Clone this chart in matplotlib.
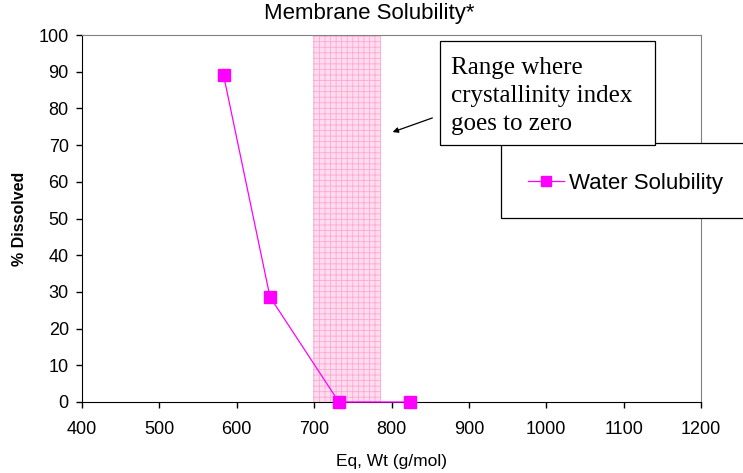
import matplotlib
matplotlib.use("Agg")
import matplotlib.pyplot as plt
from matplotlib.patches import Rectangle, FancyArrowPatch

eq_wt = [583, 643, 732, 824]
pct_dissolved = [89, 28.6, 0, 0]
shade_range = [699, 786]
x_ticks = [400, 500, 600, 700, 800, 900, 1000, 1100, 1200]
y_ticks = [0, 10, 20, 30, 40, 50, 60, 70, 80, 90, 100]

plt.rcParams['font.family'] = ['Liberation Sans', 'DejaVu Sans']
plt.rcParams['hatch.linewidth'] = 0.6

fig = plt.figure(figsize=(7.43, 4.73), dpi=100)
ax = fig.add_axes([82/743, 1-402/473, (701-82)/743, (402-35)/473])

ax.axvspan(shade_range[0], shade_range[1], ymin=0, ymax=1, facecolor='#FFDDEE',
           edgecolor='#FFA8D4', hatch='+++', linewidth=0, zorder=1)

line, = ax.plot(eq_wt, pct_dissolved, color='#FF00FF', linewidth=0.9, marker='s',
                markersize=9.2, markerfacecolor='#FF00FF', markeredgecolor='#FF00FF',
                zorder=3, clip_on=False, label='Water Solubility')

ax.set_xlim(400, 1200)
ax.set_ylim(0, 100)
ax.set_xticks(x_ticks)
ax.set_yticks(y_ticks)
ax.tick_params(axis='both', direction='out', length=4.5, width=1, labelsize=13, pad=5)
ax.tick_params(axis='x', pad=9)
for s in ['top', 'right']:
    ax.spines[s].set_color('#808080')
for s in ['left', 'bottom']:
    ax.spines[s].set_color('black')

fig.text(369/743, 1-13/473, 'Membrane Solubility*', fontsize=16, ha='center', va='center')
ax.set_xlabel('Eq, Wt (g/mol)', fontsize=12.5, labelpad=12)
ax.set_ylabel('% Dissolved', fontsize=11.5, fontweight='bold', labelpad=8)

# Legend box (extends past right edge)
fig.patches.append(Rectangle((501/743, 1-218/473), 0.4, (218-143)/473,
                             transform=fig.transFigure, facecolor='white',
                             edgecolor='black', linewidth=0.9, zorder=4))
leg = fig.legend(handles=[line], loc='center left', bbox_to_anchor=(528/743, 1-183/473),
                 bbox_transform=fig.transFigure, frameon=False, fontsize=16,
                 handlelength=1.6, handletextpad=0.25, markerscale=0.75,
                 borderpad=0, borderaxespad=0)
leg.set_zorder(5)

# Annotation box
fig.patches.append(Rectangle((440/743, 1-145/473), (655-440)/743, (145-41)/473,
                             transform=fig.transFigure, facecolor='white',
                             edgecolor='black', linewidth=0.9, zorder=6))
fig.text(451/743, 1-57/473, 'Range where\ncrystallinity index\ngoes to zero',
         family=['Liberation Serif', 'DejaVu Serif'], fontsize=18,
         va='top', ha='left', linespacing=1.36, zorder=7)
fig.add_artist(FancyArrowPatch(
    (435/743, 1-117/473), (390/743, 1-133/473), transform=fig.transFigure,
    arrowstyle='-|>', color='black', lw=0.9, mutation_scale=8, zorder=7))

fig.savefig('out.png', dpi=100)
